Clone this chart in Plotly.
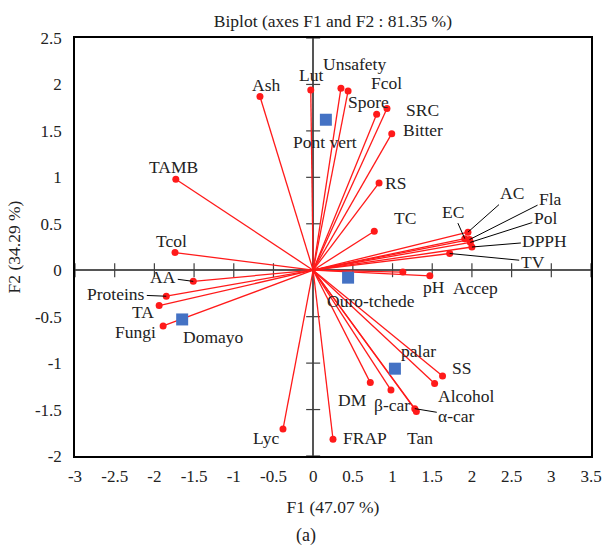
import plotly.graph_objects as go

# Variables (red vectors)
var_names = ["Ash", "Lut", "Unsafety", "Fcol", "Spore", "SRC", "Bitter", "RS", "TC",
             "TAMB", "Tcol", "AA", "Proteins", "TA", "Fungi",
             "EC", "AC", "Fla", "Pol", "DPPH", "TV", "pH", "Accep",
             "SS", "Alcohol", "DM", "β-car", "α-car", "Tan", "FRAP", "Lyc"]
var_f1 = [-0.67, -0.03, 0.35, 0.44, 0.80, 0.93, 0.99, 0.83, 0.77,
          -1.73, -1.74, -1.51, -1.85, -1.94, -1.89,
          1.91, 1.95, 1.97, 1.98, 2.00, 1.72, 1.13, 1.47,
          1.63, 1.53, 0.72, 0.98, 1.28, 1.30, 0.25, -0.38]
var_f2 = [1.87, 1.94, 1.96, 1.93, 1.68, 1.74, 1.47, 0.94, 0.42,
          0.98, 0.19, -0.12, -0.28, -0.38, -0.60,
          0.34, 0.41, 0.33, 0.30, 0.25, 0.18, -0.02, -0.06,
          -1.14, -1.22, -1.21, -1.29, -1.49, -1.52, -1.82, -1.71]

# Observations (blue squares)
obs_names = ["Pont vert", "Ouro-tchede", "palar", "Domayo"]
obs_f1 = [0.16, 0.44, 1.03, -1.65]
obs_f2 = [1.62, -0.08, -1.06, -0.53]

x_ticks = [-3, -2.5, -2, -1.5, -1, -0.5, 0, 0.5, 1, 1.5, 2, 2.5, 3, 3.5]
y_ticks = [-2, -1.5, -1, -0.5, 0, 0.5, 1, 1.5, 2, 2.5]

# label placement (pixel offsets from point): (dx, dy_up, leader)
label_style = {
    "Ash": (6, 12, False), "Lut": (0, 15, False), "Unsafety": (14, 24, False),
    "Fcol": (38, 8, False), "Spore": (-8, 12, False), "SRC": (36, -1, False),
    "Bitter": (31, 4, False), "RS": (16, 0, False), "TC": (31, 13, False),
    "TAMB": (-2, 12, False), "Tcol": (-4, 12, False), "AA": (-30, 4, True),
    "Proteins": (-50, 2, True), "TA": (-16, -6, False), "Fungi": (-28, -6, False),
    "EC": (-12, 27, True), "AC": (44, 39, True), "Fla": (81, 41, True),
    "Pol": (75, 24, True), "DPPH": (73, 6, True), "TV": (83, -8, True),
    "pH": (31, -15, False), "Accep": (46, -12, False),
    "SS": (19, 8, False), "Alcohol": (32, -12, False), "DM": (-18, -17, False),
    "β-car": (1, -15, False), "α-car": (42, -7, True), "Tan": (4, -27, False),
    "FRAP": (32, 1, False), "Lyc": (-17, -9, False),
    "Pont vert": (-1, -22, False), "Ouro-tchede": (23, -23, False),
    "palar": (24, 18, False), "Domayo": (31, -18, False),
}

FONT = "Liberation Serif, Times New Roman, serif"
LSIZE = 17.5
fig = go.Figure()

# tick marks on zero lines
fig.add_trace(go.Scatter(x=x_ticks, y=[0] * len(x_ticks), mode="markers",
                         marker=dict(symbol="line-ns", size=10, line=dict(width=1.2, color="#404040")),
                         hoverinfo="skip", showlegend=False))
fig.add_trace(go.Scatter(x=[0] * len(y_ticks), y=y_ticks, mode="markers",
                         marker=dict(symbol="line-ew", size=10, line=dict(width=1.2, color="#404040")),
                         hoverinfo="skip", showlegend=False))

# vectors
lx, ly = [], []
for a, b in zip(var_f1, var_f2):
    lx += [0, a, None]
    ly += [0, b, None]
fig.add_trace(go.Scatter(x=lx, y=ly, mode="lines", line=dict(color="#FF1A1A", width=1.3),
                         hoverinfo="skip", showlegend=False))
fig.add_trace(go.Scatter(x=var_f1, y=var_f2, mode="markers", text=var_names,
                         marker=dict(color="#FF1A1A", size=7), showlegend=False))
fig.add_trace(go.Scatter(x=obs_f1, y=obs_f2, mode="markers", text=obs_names,
                         marker=dict(color="#4472C4", size=12, symbol="square"), showlegend=False))

annotations = []
for names, xs, ys in [(var_names, var_f1, var_f2), (obs_names, obs_f1, obs_f2)]:
    for n, a, b in zip(names, xs, ys):
        dx, dy, leader = label_style[n]
        if leader:
            annotations.append(dict(x=a, y=b, text=n, showarrow=True, arrowhead=0,
                                    arrowwidth=1, arrowcolor="black", ax=dx, ay=-dy,
                                    standoff=0, font=dict(family=FONT, size=LSIZE, color="#222")))
        else:
            annotations.append(dict(x=a, y=b, text=n, showarrow=False, xshift=dx, yshift=dy,
                                    font=dict(family=FONT, size=LSIZE, color="#222")))

annotations.append(dict(x=0.448, y=-0.22, xref="paper", yref="paper", text="(a)",
                        showarrow=False, font=dict(family=FONT, size=18, color="#222")))

fig.update_layout(
    width=602, height=556,
    margin=dict(l=75, r=11, t=38, b=100),
    paper_bgcolor="white", plot_bgcolor="white",
    title=dict(text="Biplot (axes F1 and F2 : 81.35 %)", x=0.553, xanchor="center",
               y=0.963, yanchor="middle", font=dict(family=FONT, size=17.5, color="#222")),
    font=dict(family=FONT, size=17, color="#222"),
    annotations=annotations,
    xaxis=dict(range=[-3, 3.5], tickvals=x_ticks, ticktext=[f"{v:g}" for v in x_ticks],
               showgrid=False, zeroline=True, zerolinecolor="#555555", zerolinewidth=2,
               showline=True, linecolor="black", linewidth=1.5, mirror=True,
               ticks="", ticklabelstandoff=4, automargin=False,
               title=dict(text="F1 (47.07 %)", standoff=16, font=dict(family=FONT, size=17.5))),
    yaxis=dict(range=[-2, 2.5], tickvals=y_ticks, ticktext=[f"{v:g}" for v in y_ticks],
               showgrid=False, zeroline=True, zerolinecolor="#555555", zerolinewidth=2,
               showline=True, linecolor="black", linewidth=1.5, mirror=True,
               ticks="", ticklabelstandoff=8, automargin=False,
               title=dict(text="F2 (34.29 %)", standoff=10, font=dict(family=FONT, size=17.5))),
)

fig.write_html("out.html")
